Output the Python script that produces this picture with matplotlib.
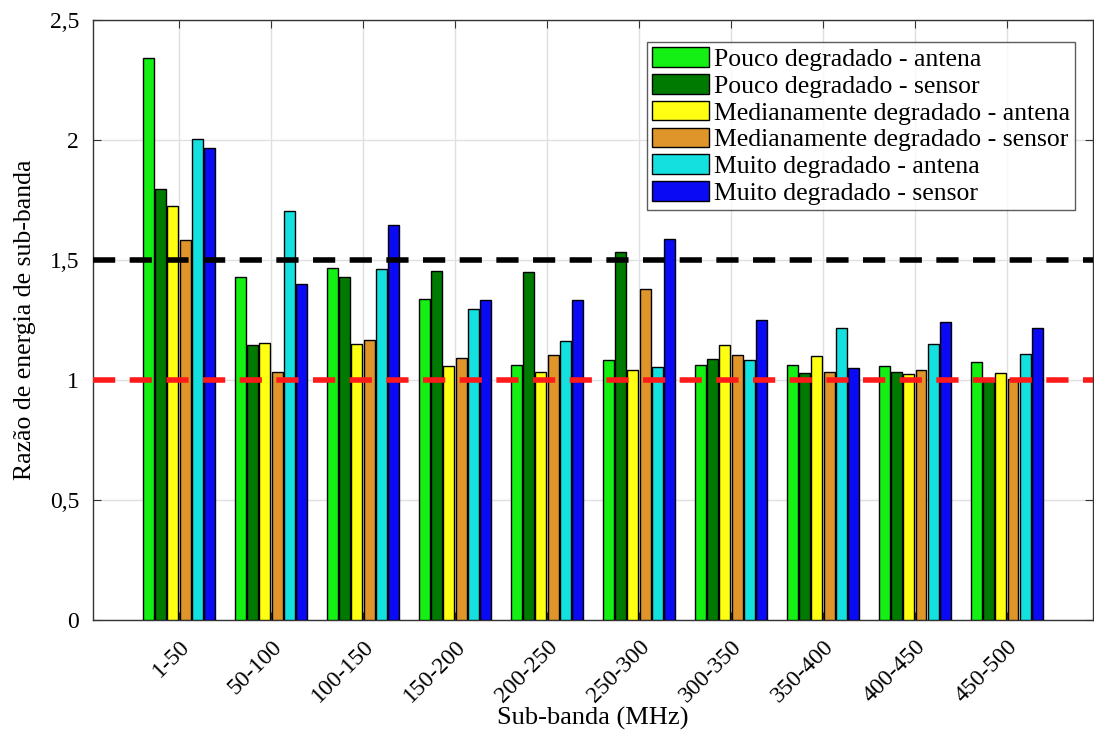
import numpy as np
import matplotlib.pyplot as plt
from matplotlib.ticker import FuncFormatter

# --- Data: sub-band energy ratio per condition ---
bands = ['1-50', '50-100', '100-150', '150-200', '200-250',
         '250-300', '300-350', '350-400', '400-450', '450-500']

pouco_antena = [2.34, 1.43, 1.465, 1.336, 1.062, 1.082, 1.062, 1.062, 1.058, 1.074]
pouco_sensor = [1.795, 1.146, 1.428, 1.455, 1.45, 1.532, 1.088, 1.029, 1.033, 0.995]
medio_antena = [1.726, 1.154, 1.15, 1.058, 1.033, 1.04, 1.143, 1.099, 1.025, 1.029]
medio_sensor = [1.583, 1.032, 1.165, 1.093, 1.103, 1.38, 1.103, 1.032, 1.043, 1.003]
muito_antena = [2.004, 1.704, 1.46, 1.296, 1.16, 1.053, 1.083, 1.214, 1.149, 1.108]
muito_sensor = [1.967, 1.399, 1.646, 1.333, 1.332, 1.585, 1.249, 1.051, 1.242, 1.217]

series = [pouco_antena, pouco_sensor, medio_antena, medio_sensor, muito_antena, muito_sensor]
labels = ['Pouco degradado - antena', 'Pouco degradado - sensor',
          'Medianamente degradado - antena', 'Medianamente degradado - sensor',
          'Muito degradado - antena', 'Muito degradado - sensor']
colors = ['#14f014', '#007a00', '#ffff14', '#e0952a', '#14e0e0', '#0a0af5']

plt.rcParams['font.family'] = ['Liberation Serif', 'DejaVu Serif']

fig = plt.figure(figsize=(10.94, 7.31), dpi=100)
ax = fig.add_axes([0.085, 0.152, 0.914, 0.821])

x = np.arange(1, len(bands) + 1)
step = 0.134
width = 0.118
for i, (vals, lab, col) in enumerate(zip(series, labels, colors)):
    offset = (i - 2.5) * step
    ax.bar(x + offset, vals, width, color=col, edgecolor='black',
           linewidth=1.0, label=lab, zorder=3)

# reference levels
ax.axhline(1.5, color='black', linestyle=(0, (4, 2.6)), linewidth=4, zorder=4)
ax.axhline(1.0, color='#ff1a1a', linestyle=(0, (4, 2.6)), linewidth=4, zorder=4)

ax.set_xlim(0.065, 10.935)
ax.set_ylim(0, 2.5)
ax.set_xticks(x)
ax.set_xticklabels(bands, rotation=45, ha='right', rotation_mode='anchor', fontsize=17)
ax.set_yticks([0, 0.5, 1, 1.5, 2, 2.5])
ax.yaxis.set_major_formatter(FuncFormatter(lambda v, p: f'{v:g}'.replace('.', ',')))
ax.tick_params(axis='y', labelsize=17, pad=10)
ax.tick_params(direction='in', top=True, right=True, length=6, width=0.8, color='#333333')
ax.tick_params(axis='x', pad=12)

ax.grid(True, color='#e0e0e0', linewidth=1.0, zorder=0)
ax.set_axisbelow(True)
for s in ax.spines.values():
    s.set_color('#333333')
    s.set_linewidth(1.0)

ax.set_xlabel('Sub-banda (MHz)', fontsize=19, labelpad=0)
ax.set_ylabel('Razão de energia de sub-banda', fontsize=18.5, labelpad=10)

leg = ax.legend(loc='upper right', bbox_to_anchor=(0.982, 0.963), fontsize=18.5,
                frameon=True, fancybox=False, handlelength=2.2, handleheight=0.8,
                handletextpad=0.2, labelspacing=0.12, borderpad=0.2, borderaxespad=0)
leg.get_frame().set_edgecolor('#333333')
leg.get_frame().set_linewidth(1.0)

fig.savefig('out.png', dpi=100)
